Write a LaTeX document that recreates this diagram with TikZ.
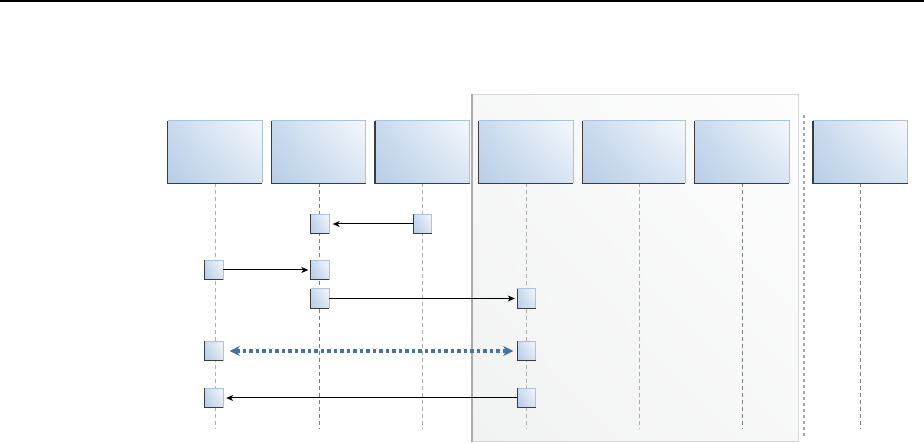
\documentclass[tikz,border=0pt]{standalone}
\usetikzlibrary{arrows.meta,shadings}
\definecolor{shLL}{HTML}{B7CDE6}
\definecolor{shUL}{HTML}{C9DAEE}
\definecolor{shLR}{HTML}{D9E5F2}
\definecolor{shUR}{HTML}{F5F8FC}
\definecolor{edgeLight}{HTML}{A9C3DF}
\definecolor{edgeDark}{HTML}{3C3C3C}
\definecolor{panelLL}{HTML}{F1F2F2}
\definecolor{panelUR}{HTML}{FDFDFD}
\definecolor{panelEdge}{HTML}{D6D6D6}
\definecolor{panelLeft}{HTML}{ABABAB}
\definecolor{lifeDark}{HTML}{7E7E7E}
\definecolor{lifeLight}{HTML}{ADADAD}
\definecolor{dotBlue}{HTML}{4573A8}
\definecolor{sepGray}{HTML}{A6A6A6}
\begin{document}
\begin{tikzpicture}[x=1pt,y=-1pt,
  shadedbox/.style={inner sep=0pt, draw=none, lower left=shLL, upper left=shUL, lower right=shLR, upper right=shUR},
  lifebox/.style={shadedbox, minimum width=94pt, minimum height=62pt},
  actbox/.style={shadedbox, minimum width=18pt, minimum height=19pt},
  panelbox/.style={inner sep=0pt, draw=panelEdge, line width=1pt, lower left=panelLL, upper left=panelLL!50!panelUR, lower right=panelLL!50!panelUR, upper right=panelUR},
  edgelight/.style={draw=edgeLight, line width=1pt},
  edgedark/.style={draw=edgeDark, line width=1.3pt},
  lifeD/.style={draw=lifeDark, line width=1pt, dash pattern=on 4pt off 3pt},
  lifeL/.style={draw=lifeLight, line width=1pt, dash pattern=on 4pt off 3pt},
  msg/.style={draw=black, line width=1pt, -{Stealth[length=7pt,width=6pt,inset=2pt]}},
  dmsg/.style={draw=dotBlue, line width=3.5pt, dash pattern=on 3.5pt off 3pt,
    {Stealth[length=10pt,width=10pt,inset=3pt]}-{Stealth[length=10pt,width=10pt,inset=3pt]}},
  sep/.style={draw=sepGray, line width=2pt, dash pattern=on 3pt off 3pt}
]
\useasboundingbox (0,0) rectangle (924,443);
% top rule
\coordinate (tl) at (0,1.5);
\coordinate (tr) at (924,1.5);
\draw[line width=2pt] (tl) -- (tr);
% panel
\node[panelbox, anchor=north west, minimum width=326pt, minimum height=347pt] (panel) at (472,94) {};
\draw[draw=panelLeft, line width=1.2pt] (panel.north west) -- (panel.south west);
% separator
\coordinate (s1) at (803.5,115);
\coordinate (s2) at (803.5,438);
\draw[sep] (s1) -- (s2);
% lifeline ends
\coordinate (e1) at (215.7,429);
\coordinate (e2) at (319.3,429);
\coordinate (e3) at (422.7,429);
\coordinate (e4) at (526.5,429);
\coordinate (e5) at (639,429);
\coordinate (e6) at (742.7,429);
\coordinate (e7) at (860,429);
% header boxes
\node[lifebox] (b1) at (215,152) {};
\node[lifebox] (b2) at (318.7,152) {};
\node[lifebox] (b3) at (422.3,152) {};
\node[lifebox] (b4) at (525.8,152) {};
\node[lifebox, minimum width=102pt] (b5) at (633.8,152) {};
\node[lifebox] (b6) at (742,152) {};
\node[lifebox] (b7) at (860.3,152) {};
% lifelines
\draw[lifeL] (b1.south -| e1) -- (e1);
\draw[lifeD] (b2.south -| e2) -- (e2);
\draw[lifeL] (b3.south -| e3) -- (e3);
\draw[lifeL] (b4.south -| e4) -- (e4);
\draw[lifeL] (b5.south -| e5) -- (e5);
\draw[lifeD] (b6.south -| e6) -- (e6);
\draw[lifeD] (b7.south -| e7) -- (e7);
% activations
\node[actbox] (a12) at (320,224) {};
\node[actbox] (a13) at (422.7,224) {};
\node[actbox] (a21) at (214,270) {};
\node[actbox] (a22) at (320,270) {};
\node[actbox] (a32) at (320,298.5) {};
\node[actbox] (a34) at (526.5,298.5) {};
\node[actbox] (a41) at (214,351) {};
\node[actbox] (a44) at (526.5,351) {};
\node[actbox] (a51) at (214,398) {};
\node[actbox] (a54) at (526.5,398) {};
% box edges
\foreach \n in {b1,b2,b3,b4,b5,b6,b7,a12,a13,a21,a22,a32,a34,a41,a44,a51,a54}{
  \draw[edgelight] (\n.south east) -- (\n.north east) -- (\n.north west);
  \draw[edgedark] (\n.north west) -- (\n.south west) -- (\n.south east);
}
% messages
\draw[msg, shorten >=3.5pt] (a13.west) -- (a12.east);
\draw[msg, shorten >=2.5pt] (a21.east) -- (a22.west);
\draw[msg, shorten >=2.5pt] (a32.east) -- (a34.west);
\draw[dmsg, shorten <=6.5pt, shorten >=4pt] (a41.east) -- (a44.west);
\draw[msg, shorten >=3pt] (a54.west) -- (a51.east);
\end{tikzpicture}
\end{document}
